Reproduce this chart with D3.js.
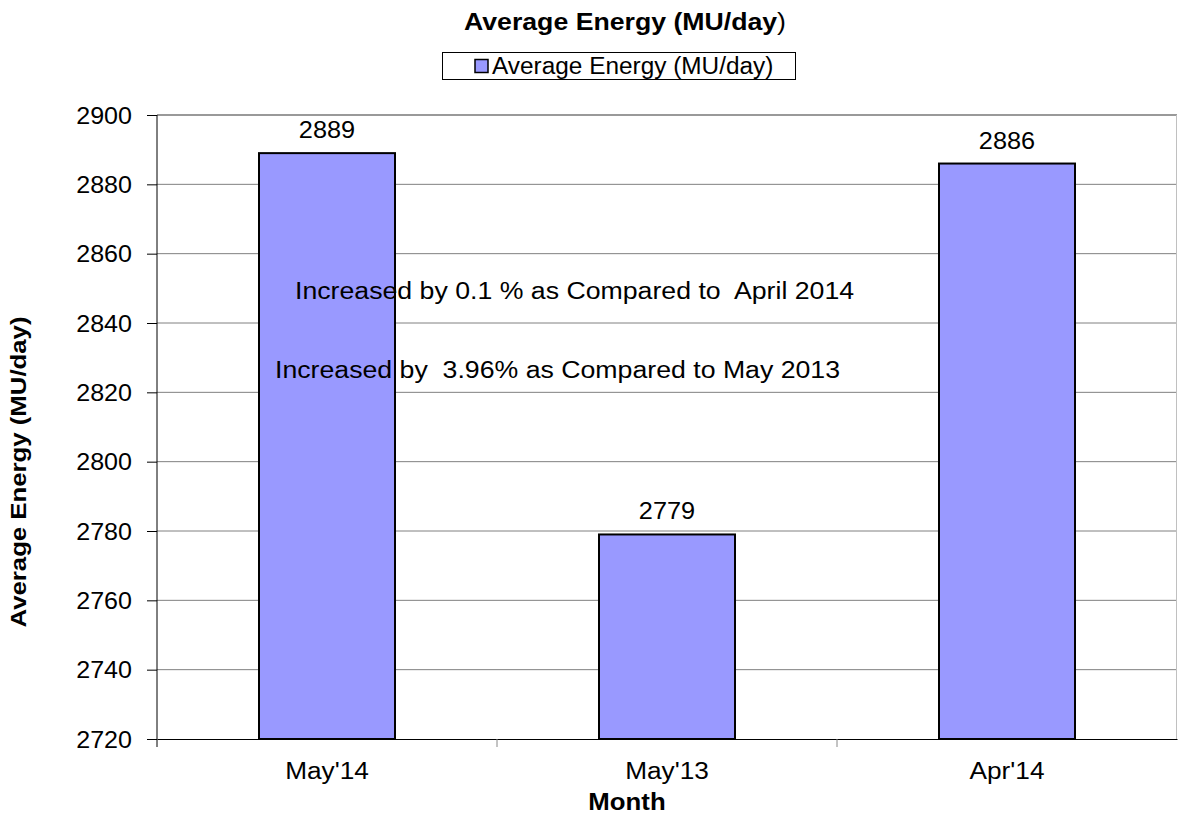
<!DOCTYPE html>
<html>
  <head>
    <meta charset="utf-8">
    <title>Average Energy (MU/day)</title>
    <script src="https://d3js.org/d3.v7.min.js"></script>
    <style>
      body { margin: 0; background: #fff; }
      text { font-family: "Liberation Sans", Arial, sans-serif; fill: #000; white-space: pre; }
    </style>
  </head>
  <body>
    <div id="chart"></div>
    <script>
      // Chart data
      const months = ["May'14", "May'13", "Apr'14"];
      const energy = [2889, 2779, 2886];
      const yTicks = [2720, 2740, 2760, 2780, 2800, 2820, 2840, 2860, 2880, 2900];
      const notes = [
        "Increased by 0.1 % as Compared to  April 2014",
        "Increased by  3.96% as Compared to May 2013"
      ];
      const seriesName = "Average Energy (MU/day)";

      const width = 1178;
      const height = 817;
      const margin = { top: 115, right: 1, bottom: 78, left: 157 };
      const fs = "23px";

      // the original chart text is a bit wider than Liberation Sans, so stretch it
      function stretch(sel, k) {
        sel.each(function() {
          const w = this.getComputedTextLength();
          d3.select(this)
            .attr("textLength", w * k)
            .attr("lengthAdjust", "spacingAndGlyphs");
        });
      }

      const svg = d3.select("#chart")
        .append("svg")
        .attr("width", width)
        .attr("height", height);

      const x = d3.scaleBand()
        .domain(months)
        .range([margin.left, width - margin.right])
        .paddingInner(0)
        .paddingOuter(0);

      const y = d3.scaleLinear()
        .domain([2720, 2900])
        .range([height - margin.bottom, margin.top]);

      // Gridlines
      svg.append("g")
        .selectAll("line")
        .data(yTicks.slice(1, -1))
        .enter()
        .append("line")
        .attr("x1", margin.left)
        .attr("x2", width - margin.right)
        .attr("y1", d => y(d))
        .attr("y2", d => y(d))
        .attr("stroke", "#808080")
        .attr("stroke-width", 1);

      // Plot frame: top and right borders
      svg.append("line")
        .attr("x1", margin.left).attr("x2", width - margin.right)
        .attr("y1", y(2900)).attr("y2", y(2900))
        .attr("stroke", "#999").attr("stroke-width", 2);
      svg.append("line")
        .attr("x1", width - margin.right - 0.5).attr("x2", width - margin.right - 0.5)
        .attr("y1", y(2900)).attr("y2", y(2720))
        .attr("stroke", "#c0c0c0").attr("stroke-width", 1);

      // Bars
      const barW = x.bandwidth() * 0.4;
      svg.append("g")
        .selectAll("rect")
        .data(months)
        .enter()
        .append("rect")
        .attr("x", d => x(d) + (x.bandwidth() - barW) / 2)
        .attr("y", (d, i) => y(energy[i]))
        .attr("width", barW)
        .attr("height", (d, i) => y(2720) - y(energy[i]))
        .attr("fill", "#9999ff")
        .attr("stroke", "#000")
        .attr("stroke-width", 2);

      // Value labels
      svg.append("g")
        .selectAll("text")
        .data(months)
        .enter()
        .append("text")
        .attr("x", d => x(d) + x.bandwidth() / 2)
        .attr("y", (d, i) => y(energy[i]) - 15)
        .attr("text-anchor", "middle")
        .style("font-size", fs)
        .text((d, i) => energy[i])
        .call(stretch, 1.1);

      // Y axis
      const yAxis = svg.append("g")
        .attr("transform", `translate(${margin.left},0)`)
        .call(d3.axisLeft(y).tickValues(yTicks).tickSize(10).tickFormat(d3.format("d")));
      yAxis.select(".domain").attr("stroke", "#000").attr("d", `M0,${y(2900)}V${y(2720)}`);
      yAxis.selectAll(".tick line").attr("stroke", "#000").attr("x1", -10).attr("x2", 0);
      yAxis.selectAll(".tick text")
        .attr("x", -25)
        .attr("dy", "0.35em")
        .style("font-size", fs)
        .style("font-family", "'Liberation Sans', Arial, sans-serif")
        .attr("fill", "#000")
        .call(stretch, 1.09);

      // X axis
      const xAxis = svg.append("g")
        .attr("transform", `translate(0,${y(2720)})`)
        .call(d3.axisBottom(x).tickSize(0).tickSizeOuter(0));
      xAxis.select(".domain").attr("stroke", "#000");
      xAxis.selectAll(".tick text")
        .attr("y", 24)
        .attr("dy", "0.71em")
        .style("font-size", fs)
        .style("font-family", "'Liberation Sans', Arial, sans-serif")
        .attr("fill", "#000")
        .call(stretch, 1.14);
      // category separator ticks
      xAxis.append("g")
        .selectAll("line")
        .data(months)
        .enter()
        .append("line")
        .attr("x1", d => x(d))
        .attr("x2", d => x(d))
        .attr("y1", 0)
        .attr("y2", 8)
        .attr("stroke", (d, i) => i === 0 ? "#000" : "#888");

      // Title (closing bracket is not bold in the original)
      const title = svg.append("text")
        .attr("transform", "translate(625,30) scale(1.16,1)")
        .attr("text-anchor", "middle")
        .style("font-size", "23px")
        .style("font-weight", "bold");
      title.append("tspan").text(seriesName.slice(0, -1));
      title.append("tspan").style("font-weight", "normal").text(")");

      // Legend
      const legend = svg.append("g").attr("transform", "translate(442,52)");
      legend.append("rect")
        .attr("x", 0.5).attr("y", 0.5)
        .attr("width", 353).attr("height", 27)
        .attr("fill", "#fff")
        .attr("stroke", "#000")
        .attr("stroke-width", 1);
      legend.append("rect")
        .attr("x", 33).attr("y", 7.5)
        .attr("width", 13).attr("height", 13)
        .attr("fill", "#9999ff")
        .attr("stroke", "#000")
        .attr("stroke-width", 1.5);
      legend.append("text")
        .attr("x", 50)
        .attr("y", 22)
        .style("font-size", "23px")
        .text(seriesName)
        .call(stretch, 1.06);

      // Annotations
      svg.append("g")
        .selectAll("text")
        .data(notes)
        .enter()
        .append("text")
        .attr("x", (d, i) => i === 0 ? 295 : 275)
        .attr("y", (d, i) => i === 0 ? 299 : 378)
        .style("font-size", fs)
        .text(d => d)
        .call(stretch, 1.16);

      // Axis titles
      svg.append("text")
        .attr("transform", "translate(26,472) rotate(-90) scale(1.12,1)")
        .attr("text-anchor", "middle")
        .style("font-size", "23px")
        .style("font-weight", "bold")
        .text(seriesName);

      svg.append("text")
        .attr("x", 627)
        .attr("y", 810)
        .attr("text-anchor", "middle")
        .style("font-size", "23px")
        .style("font-weight", "bold")
        .text("Month")
        .call(stretch, 1.12);
    </script>
  </body>
</html>
